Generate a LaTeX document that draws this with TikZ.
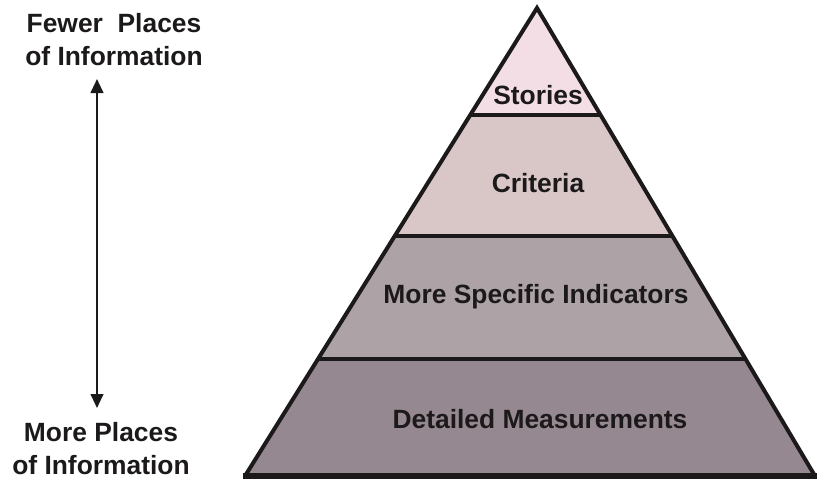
\documentclass[tikz,border=0pt]{standalone}
\usepackage{fontspec}
\setmainfont{Liberation Sans}
\usetikzlibrary{calc,arrows.meta}
\definecolor{cStories}{RGB}{243,222,230}
\definecolor{cCriteria}{RGB}{217,198,199}
\definecolor{cSpecific}{RGB}{173,162,166}
\definecolor{cDetailed}{RGB}{150,136,144}
\definecolor{ink}{RGB}{28,25,27}
\tikzset{
  lbl/.style={font=\fontsize{19.8}{24.8}\selectfont\bfseries, text=ink, align=center, inner sep=0pt},
  edge/.style={draw=ink, line width=3pt},
  dir/.style={draw=ink, line width=1.5pt, {Triangle[length=10.5pt,width=9.5pt]}-{Triangle[length=10.5pt,width=9.5pt]}}
}
\begin{document}
\begin{tikzpicture}[x=0.75pt,y=-0.75pt]
\useasboundingbox (0,0) rectangle (817,480);
\coordinate (A) at (537,8);
\coordinate (L) at (245,476);
\coordinate (R) at (815,476);
\coordinate (L1) at ($(A)!0.2286!(L)$);
\coordinate (R1) at ($(A)!0.2286!(R)$);
\coordinate (L2) at ($(A)!0.487!(L)$);
\coordinate (R2) at ($(A)!0.487!(R)$);
\coordinate (L3) at ($(A)!0.75!(L)$);
\coordinate (R3) at ($(A)!0.75!(R)$);
% fills
\fill[cStories] (A) -- (L1) -- (R1) -- cycle;
\fill[cCriteria] (L1) -- (L2) -- (R2) -- (R1) -- cycle;
\fill[cSpecific] (L2) -- (L3) -- (R3) -- (R2) -- cycle;
\fill[cDetailed] (L3) -- (L) -- (R) -- (R3) -- cycle;
% dividers
\draw[edge] (L1) -- (R1);
\draw[edge] (L2) -- (R2);
\draw[edge] (L3) -- (R3);
% outline
\draw[edge, line join=miter] (L) -- (A) -- (R);
\draw[draw=ink, line width=3.8pt] ([xshift=-1.5pt]L) -- ([xshift=1.5pt]R);
% layer labels
\node[lbl] (stories) at (538,95) {Stories};
\node[lbl] (criteria) at (538,183) {Criteria};
\node[lbl] (specific) at (536,297) {More Specific Indicators};
\node[lbl] (detailed) at (540,419) {Detailed Measurements};
% side labels
\node[lbl] (fewer) at (114,40) {Fewer\ \ Places\\of Information};
\node[lbl] (more) at (101,449) {More Places\\of Information};
\coordinate (atop) at (97,79);
\coordinate (abot) at (97,408);
\draw[dir] (abot) -- (atop);
\end{tikzpicture}
\end{document}
